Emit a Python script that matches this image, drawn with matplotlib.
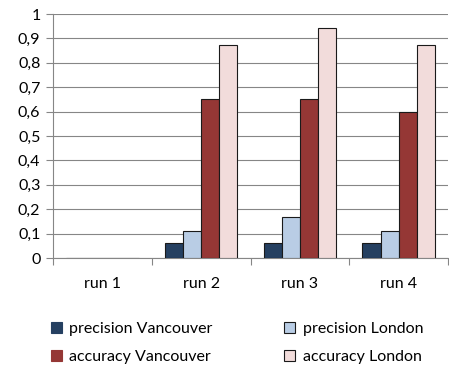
import matplotlib
matplotlib.use("Agg")
import matplotlib.pyplot as plt
import numpy as np
from matplotlib.patches import Patch

categories = ["run 1", "run 2", "run 3", "run 4"]
precision_vancouver = [0, 0.06, 0.06, 0.06]
precision_london = [0, 0.111, 0.167, 0.111]
accuracy_vancouver = [0, 0.65, 0.65, 0.60]
accuracy_london = [0, 0.875, 0.944, 0.875]
series_names = ["precision Vancouver", "precision London",
                "accuracy Vancouver", "accuracy London"]
colors = ["#254061", "#b9cde5", "#953735", "#f2dcdb"]
yticks = np.round(np.arange(0, 1.01, 0.1), 1)
ytick_labels = [("%g" % v).replace(".", ",") for v in yticks]

plt.rcParams["font.family"] = ["Lato", "DejaVu Sans"]
fs = 11.5

fig = plt.figure(figsize=(4.49, 3.67), dpi=100)
ax = fig.add_axes([53 / 449, 1 - 258 / 367, 395 / 449, 244 / 367])

series = [precision_vancouver, precision_london, accuracy_vancouver, accuracy_london]
x = np.arange(len(categories))
bw = 0.183
for i, (vals, c, name) in enumerate(zip(series, colors, series_names)):
    ax.bar(x + (i - 1.5) * bw, vals, width=bw, color=c, edgecolor="#1a1a1a",
           linewidth=0.8, label=name, zorder=3)

ax.set_xlim(-0.5, len(categories) - 0.5)
ax.set_ylim(0, 1)
ax.set_yticks(yticks)
ax.set_yticklabels(ytick_labels, fontsize=fs)
ax.set_xticks(x)
ax.set_xticklabels(categories, fontsize=fs)
ax.tick_params(axis="x", length=0, pad=14)
ax.set_xticks(np.arange(-0.5, len(categories), 1), minor=True)
ax.tick_params(axis="x", which="minor", length=5, color="#868686", width=0.8)
ax.tick_params(axis="y", length=5, color="#868686", width=0.8, pad=4)
ax.grid(axis="y", color="#868686", linewidth=0.8, zorder=0)
for s in ["top", "right"]:
    ax.spines[s].set_visible(False)
for s in ["left", "bottom"]:
    ax.spines[s].set_color("#868686")
    ax.spines[s].set_linewidth(0.8)

handles = [Patch(facecolor=c, edgecolor=("#1a1a1a" if i % 2 else c), linewidth=0.8)
           for i, c in enumerate(colors)]
# legend fills column by column: left column Vancouver, right column London
order = [0, 2, 1, 3]
fig.legend([handles[i] for i in order], [series_names[i] for i in order],
           ncol=2, loc="upper left", bbox_to_anchor=(0.095, 0.145),
           frameon=False, fontsize=fs, handlelength=0.7, handleheight=0.7,
           handletextpad=0.45, columnspacing=4.5, labelspacing=0.85,
           borderpad=0)

fig.savefig("out.png", dpi=100)
